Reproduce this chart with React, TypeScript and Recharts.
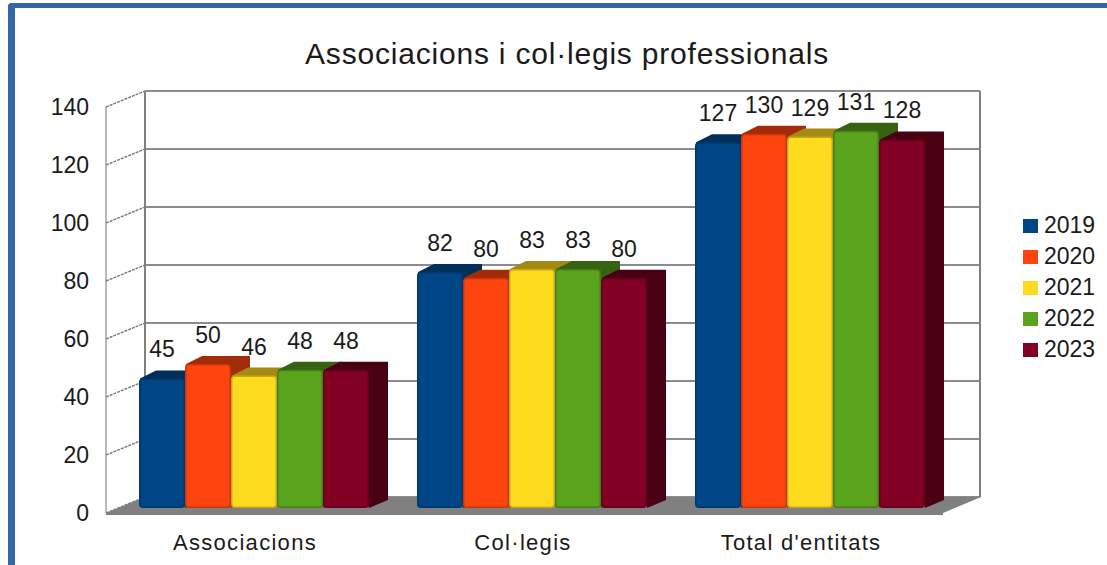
import { Bar, CartesianGrid, ComposedChart, LabelList, Legend, Line, XAxis, YAxis } from "recharts";

const categories = ["Associacions", "Col·legis", "Total d'entitats"];
const years = ["2019", "2020", "2021", "2022", "2023"];
const values2019 = [45, 82, 127];
const values2020 = [50, 80, 130];
const values2021 = [46, 83, 129];
const values2022 = [48, 83, 131];
const values2023 = [48, 80, 128];
const yTicks = [0, 20, 40, 60, 80, 100, 120, 140];

const seriesValues = [values2019, values2020, values2021, values2022, values2023];
const colors = ["#004586", "#ff450e", "#ffdb20", "#5aa31d", "#820024"];
const darkColors = ["#002f5c", "#a02c09", "#a38a14", "#366212", "#4a0013"];
const edgeColors = ["#00386c", "#c9340b", "#c9a718", "#477f17", "#640019"];

const data = categories.map((name, i) => {
    const row: Record<string, string | number> = { name };
    years.forEach((y, s) => { row[y] = seriesValues[s][i]; });
    return row;
});

const font = "'Liberation Sans', Arial, sans-serif";
const textColor = "#1a1a1a";

// fake 3d: bars sit a bit behind the front edge of the floor
const barShift = 9.5;
const depthX = 19;
const depthY = 8;

function Bar3D(props: any) {
    const { x, y, width, height } = props;
    const s = props.seriesIndex;
    const left = x + barShift;
    const right = left + width;
    const bottom = y + height;
    return (
        <g>
            <path
                d={`M${left + 1} ${y} L${left + depthX - 2} ${y - depthY} L${right + depthX} ${y - depthY} L${right + depthX} ${bottom - depthY} L${right} ${bottom} Z`}
                fill={darkColors[s]}
            />
            <rect x={left + 0.75} y={y + 0.75} width={width - 1.5} height={height - 1.5} rx={3} fill={colors[s]} stroke={edgeColors[s]} strokeWidth={1.5} />
        </g>
    );
}

function BarLabel(props: any) {
    const { x, y, width, value } = props;
    return (
        <text x={x + barShift + width / 2} y={y - 21} textAnchor="middle" fontSize={23} fontFamily={font} fill={textColor}>
            {value}
        </text>
    );
}

function WallLine(props: any) {
    const { y1 } = props;
    return (
        <g>
            <line x1={145} x2={980} y1={y1 - 11} y2={y1 - 11} stroke="#8c8c8c" strokeWidth={2} />
            <line x1={106} x2={145} y1={y1 + 5} y2={y1 - 11} stroke="#777777" strokeWidth={1.4} strokeDasharray="3 1" />
        </g>
    );
}

function YTick(props: any) {
    const { y, payload } = props;
    return (
        <text x={89} y={y + 13} textAnchor="end" fontSize={23} fontFamily={font} fill={textColor}>
            {payload.value}
        </text>
    );
}

function LegendBox(props: any) {
    return (
        <div style={{ fontFamily: font, fontSize: 23, color: textColor }}>
            {props.payload
                .filter((p: any) => p.type !== "none")
                .map((p: any) => (
                    <div key={p.value} style={{ display: "flex", alignItems: "center", height: 31 }}>
                        <span style={{ width: 15, height: 14, background: p.color, marginRight: 6 }} />
                        {p.value}
                    </div>
                ))}
        </div>
    );
}

export default function App() {
    return (
        <div style={{ position: "absolute", left: 0, top: 0, width: 1107, height: 565, overflow: "hidden", background: "#fff" }}>
            <div style={{ position: "absolute", left: 8, top: 3, width: 1200, height: 700, border: "solid #3465a4", borderWidth: "5px 0 0 7px", borderTopLeftRadius: 4 }} />
            <div style={{ position: "absolute", left: 0, top: 0 }}>
                <ComposedChart width={1107} height={565} data={data} margin={{ top: 102, right: 83, bottom: 0, left: 0 }} barCategoryGap={23.5} barGap={0}>
                    <text x={567} y={64} textAnchor="middle" fontSize={30} letterSpacing={0.8} fontFamily={font} fill={textColor}>
                        Associacions i col·legis professionals
                    </text>
                    <polygon points="106,513 943,513 981,497 145,497" fill="#808080" />
                    <line x1={106} x2={106} y1={107} y2={513} stroke="#8c8c8c" strokeWidth={1.2} />
                    <line x1={145} x2={145} y1={91} y2={497} stroke="#808080" strokeWidth={2} />
                    <line x1={980} x2={980} y1={91} y2={497} stroke="#808080" strokeWidth={2} />
                    <line x1={106} x2={943} y1={514} y2={514} stroke="#808080" strokeWidth={2} />
                    <CartesianGrid yAxisId="wall" vertical={false} horizontal={WallLine} />
                    <XAxis dataKey="name" height={57} axisLine={false} tickLine={false} tickMargin={20} tick={{ fontSize: 22, letterSpacing: 1.3, fontFamily: font, fill: textColor }} />
                    <YAxis yAxisId="wall" width={106} domain={[0, 140]} ticks={yTicks} axisLine={false} tickLine={false} tick={YTick} interval={0} />
                    <YAxis yAxisId="bars" hide domain={[0, 141]} />
                    {/* the wall axis needs a series of its own or it draws no ticks */}
                    <Line yAxisId="wall" dataKey="2019" stroke="none" dot={false} activeDot={false} legendType="none" isAnimationActive={false} />
                    {years.map((y, s) => (
                        <Bar key={y} yAxisId="bars" dataKey={y} fill={colors[s]} isAnimationActive={false} shape={(p: any) => <Bar3D {...p} seriesIndex={s} />}>
                            <LabelList dataKey={y} content={BarLabel} />
                        </Bar>
                    ))}
                    <Legend layout="vertical" align="right" verticalAlign="top" content={LegendBox} wrapperStyle={{ left: 1023, top: 210, width: 84 }} />
                </ComposedChart>
            </div>
        </div>
    );
}
